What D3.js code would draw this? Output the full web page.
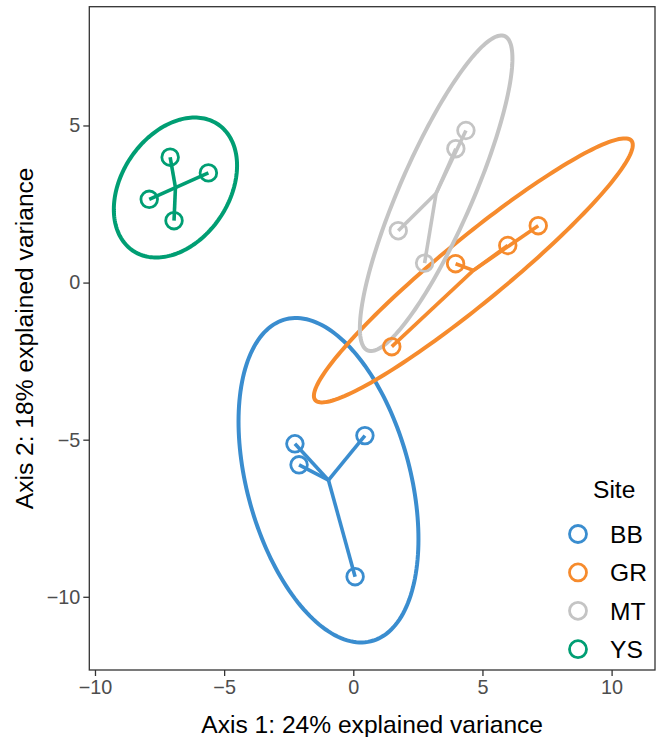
<!DOCTYPE html>
<html>
<head>
<meta charset="utf-8">
<script src="https://cdn.jsdelivr.net/npm/d3@7"></script>
<style>
  body { margin: 0; background: #fff; }
  svg { font-family: "Liberation Sans", Arial, sans-serif; }
</style>
</head>
<body>
<svg id="chart" width="660" height="737"></svg>
<script>
// Sitios y colores
const sites = ['BB', 'GR', 'MT', 'YS'];
const colors = ['#3a8dcf', '#f68b2d', '#c4c4c4', '#009e73'];

// Coordenadas de las muestras (eje 1, eje 2)
const sampleSite = ['BB', 'BB', 'BB', 'BB', 'GR', 'GR', 'GR', 'GR', 'MT', 'MT', 'MT', 'MT', 'YS', 'YS', 'YS', 'YS'];
const axis1 = [0.45, 0.07, -2.26, -2.10, 7.16, 5.98, 3.96, 1.49, 4.36, 3.97, 1.74, 2.76, -7.09, -5.61, -7.90, -6.94];
const axis2 = [-4.87, -9.36, -5.13, -5.80, 1.81, 1.18, 0.60, -2.04, 4.84, 4.26, 1.65, 0.62, 3.99, 3.49, 2.65, 1.97];

// Forma de las elipses (matriz en unidades de datos) por sitio
const ellSxx = [12.13, 38.1, 8.72, 5.69];
const ellSyy = [26.65, 17.65, 25.22, 4.96];
const ellSxy = [-6.51, 24.63, 12.67, 1.66];

// Marcas de los ejes
const xTicks = [-10, -5, 0, 5, 10];
const yTicks = [-10, -5, 0, 5];

const panel = { left: 89.3, right: 655, top: 6.7, bottom: 670 };

const x = d3.scaleLinear().domain([-10.22, 11.68]).range([panel.left, panel.right]);
const y = d3.scaleLinear().domain([-12.33, 8.78]).range([panel.bottom, panel.top]);
const color = d3.scaleOrdinal().domain(sites).range(colors);

const svg = d3.select('#chart');

const samples = axis1.map((v, i) => ({ site: sampleSite[i], x: v, y: axis2[i] }));
const groups = sites.map((s, i) => {
  const pts = samples.filter(d => d.site === s);
  return {
    site: s,
    pts,
    cx: d3.mean(pts, d => d.x),
    cy: d3.mean(pts, d => d.y),
    sxx: ellSxx[i], syy: ellSyy[i], sxy: ellSxy[i]
  };
});

// Elipses
const line = d3.line().x(d => x(d[0])).y(d => y(d[1])).curve(d3.curveLinearClosed);
function ellipsePts(g) {
  // descomposicion de Cholesky
  const a = Math.sqrt(g.sxx);
  const b = g.sxy / a;
  const c = Math.sqrt(Math.max(g.syy - b * b, 0));
  return d3.range(0, 2 * Math.PI, Math.PI / 90).map(t => {
    const u = Math.cos(t), v = Math.sin(t);
    return [g.cx + a * u, g.cy + b * u + c * v];
  });
}

svg.append('g').selectAll('path')
  .data(groups)
  .enter()
  .append('path')
  .attr('d', d => line(ellipsePts(d)))
  .attr('fill', 'none')
  .attr('stroke', d => color(d.site))
  .attr('stroke-width', 4);

// Segmentos desde el centroide
const segs = svg.append('g');
groups.forEach(g => {
  segs.selectAll(null)
    .data(g.pts)
    .enter()
    .append('line')
    .attr('x1', x(g.cx))
    .attr('y1', y(g.cy))
    .attr('x2', d => x(d.x))
    .attr('y2', d => y(d.y))
    .attr('stroke', color(g.site))
    .attr('stroke-width', 3.6);
});

// Puntos
svg.append('g').selectAll('circle')
  .data(samples)
  .enter()
  .append('circle')
  .attr('cx', d => x(d.x))
  .attr('cy', d => y(d.y))
  .attr('r', 8.3)
  .attr('fill', 'none')
  .attr('stroke', d => color(d.site))
  .attr('stroke-width', 2.8);

// Borde del panel
svg.append('rect')
  .attr('x', panel.left)
  .attr('y', panel.top)
  .attr('width', panel.right - panel.left)
  .attr('height', panel.bottom - panel.top)
  .attr('fill', 'none')
  .attr('stroke', '#333')
  .attr('stroke-width', 1.3);

// Ejes
const fmt = d => d < 0 ? '\u2212' + Math.abs(d) : d;
const ejeX = d3.axisBottom(x).tickValues(xTicks).tickSize(6).tickPadding(4).tickFormat(fmt);
const ejeY = d3.axisLeft(y).tickValues(yTicks).tickSize(6).tickPadding(3).tickFormat(fmt);

const gx = svg.append('g').attr('transform', `translate(0,${panel.bottom})`).call(ejeX);
const gy = svg.append('g').attr('transform', `translate(${panel.left},0)`).call(ejeY);
[gx, gy].forEach(g => {
  g.select('.domain').remove();
  g.selectAll('.tick line').attr('stroke', '#333').attr('stroke-width', 1.3);
  g.selectAll('.tick text')
    .attr('fill', '#4d4d4d')
    .style('font-size', '19.8px')
    .style('font-family', '"Liberation Sans", Arial, sans-serif');
});

// Titulos de los ejes
svg.append('text')
  .attr('x', (panel.left + panel.right) / 2)
  .attr('y', 733)
  .attr('text-anchor', 'middle')
  .style('font-size', '24.6px')
  .text('Axis 1: 24% explained variance');

svg.append('text')
  .attr('transform', `translate(33,${(panel.top + panel.bottom) / 2}) rotate(-90)`)
  .attr('text-anchor', 'middle')
  .style('font-size', '24.6px')
  .text('Axis 2: 18% explained variance');

// Leyenda
const leyenda = svg.append('g').attr('transform', 'translate(578,534)');
leyenda.append('text')
  .attr('x', 15)
  .attr('y', -36)
  .style('font-size', '24.6px')
  .text('Site');

const items = leyenda.selectAll('g.item')
  .data(sites)
  .enter()
  .append('g')
  .attr('class', 'item')
  .attr('transform', (d, i) => `translate(0,${i * 38.4})`);

items.append('circle')
  .attr('r', 8.5)
  .attr('fill', 'none')
  .attr('stroke', d => color(d))
  .attr('stroke-width', 2.8);

items.append('text')
  .attr('x', 32)
  .attr('y', 9)
  .style('font-size', '24.6px')
  .text(d => d);
</script>
</body>
</html>
